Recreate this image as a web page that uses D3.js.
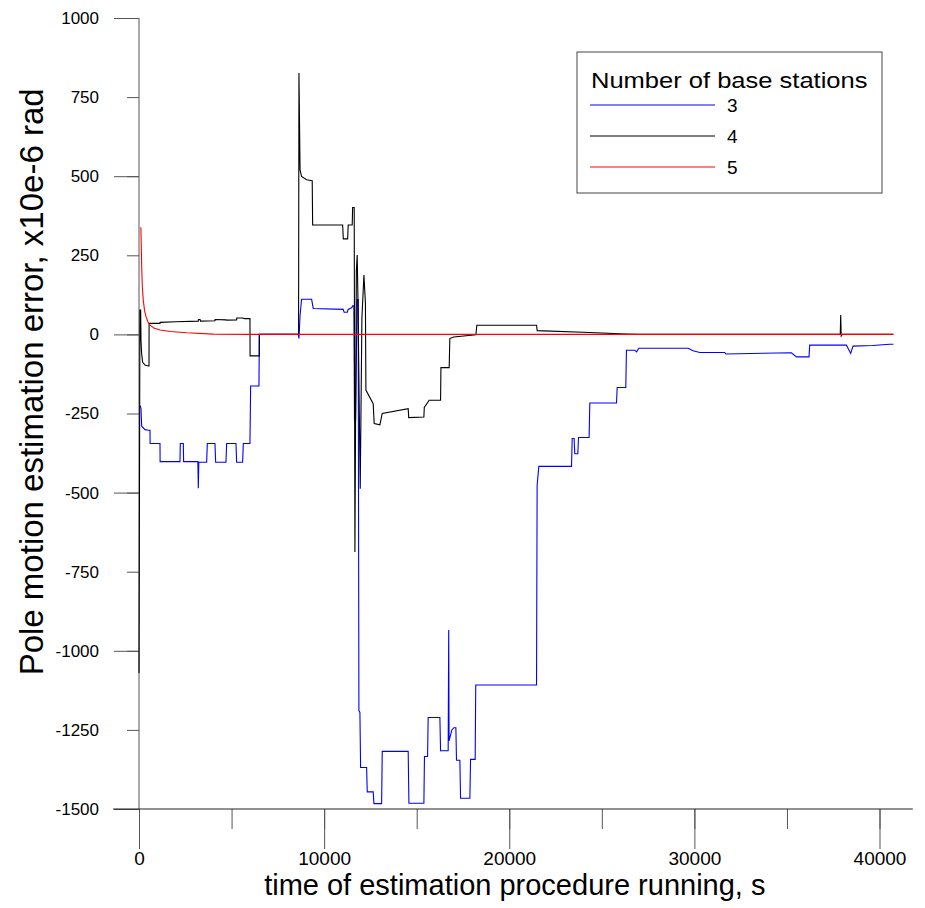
<!DOCTYPE html>
<html>
<head>
<meta charset="utf-8">
<script src="https://cdn.jsdelivr.net/npm/d3@7"></script>
<style>
    body { margin: 0; background: #fff; }
    text { font-family: "Liberation Sans", Arial, sans-serif; fill: #000; }
</style>
</head>
<body>
<svg id="vis"></svg>
<script>
const WIDTH = 925;
const HEIGHT = 908;

// time (s), error (x10e-6 rad)
const station3 = [
    [60, -225], [108, -234], [144, -290], [324, -301], [504, -303], [594, -303], [600, -345],
    [1134, -345], [1140, -402], [2214, -402], [2230, -345], [2394, -345], [2410, -402],
    [3180, -402], [3204, -486], [3230, -404], [3654, -404], [3690, -345], [4104, -345],
    [4140, -404], [4698, -404], [4734, -345], [5238, -345], [5274, -404], [5598, -404],
    [5634, -345], [5994, -345], [6030, -163], [6480, -163], [6500, 0], [8600, 0],
    [8640, -13], [8700, 60], [8784, 111], [9325, 111], [9412, 82], [11031, 79],
    [11080, 70], [11250, 70], [11300, 79], [11500, 85], [11539, 90], [11609, 90],
    [11640, -270], [11700, -270], [11780, 110], [11840, 110], [11879, -1189], [11933, -1195],
    [11970, -1369], [12295, -1369], [12330, -1446], [12651, -1446], [12690, -1483],
    [13105, -1483], [13140, -1318], [14541, -1318], [14580, -1482], [15389, -1482],
    [15420, -1334], [15589, -1334], [15620, -1211], [16253, -1211], [16290, -1316],
    [16701, -1316], [16730, -934], [16750, -1285], [16900, -1250], [17009, -1243],
    [17117, -1243], [17150, -1346], [17333, -1346], [17370, -1466], [17873, -1466],
    [17910, -1343], [18159, -1343], [18190, -1108], [21474, -1108], [21506, -477],
    [21598, -417], [23364, -417], [23400, -329], [23504, -329], [23540, -377], [23704, -377],
    [23740, -326], [24314, -326], [24352, -217], [25794, -217], [25830, -168], [26296, -168],
    [26330, -50], [26782, -50], [26874, -55], [26998, -44], [29660, -44], [29930, -52],
    [30292, -57], [31641, -57], [31700, -62], [35243, -58], [35513, -71], [36193, -71],
    [36230, -34], [38213, -34], [38445, -60], [38569, -37], [39633, -35], [40551, -31],
    [40750, -31]
];

const station4 = [
    [0, -1070], [50, 77], [90, 77], [108, -20], [140, -60], [198, -88], [324, -97],
    [504, -100], [540, -100], [545, 35], [1134, 35], [1140, 38], [2000, 40], [3204, 42],
    [3210, 47], [3300, 47], [3320, 42], [4104, 43], [4110, 47], [4700, 46], [4734, 45],
    [5274, 46], [5280, 52], [5600, 52], [5700, 50], [5994, 50], [6000, -68], [6498, -68],
    [6500, 0], [8620, 0], [8640, 826], [8700, 520], [8784, 499], [9055, 489], [9357, 486],
    [9380, 346], [11000, 346], [11036, 302], [11270, 302], [11300, 346], [11517, 346],
    [11540, 401], [11625, 401], [11663, -688], [11740, 200], [11787, 251], [11830, 100],
    [11950, -488], [12040, 50], [12150, 188], [12230, 100], [12257, -176], [12650, -219],
    [12705, -282], [13013, -286], [13137, -250], [14541, -235], [14570, -263], [15389, -261],
    [15410, -231], [15675, -208], [16290, -208], [16310, -105], [16755, -105], [16790, -13],
    [17000, -8], [18197, -1], [18250, 29], [21474, 29], [21510, 12], [24352, 6],
    [26334, 1], [27000, 0], [37880, 0], [37905, 61], [37930, -5], [38000, 0], [40750, 0]
];

const station5 = [
    [100, 339], [130, 260], [145, 214], [180, 150], [230, 109], [300, 75], [380, 56],
    [480, 40], [600, 29], [800, 20], [1130, 14], [1700, 9], [2570, 5], [4000, 1],
    [6000, 0], [40750, 0]
];

const SERIES_NAMES = ["3", "4", "5"];
const SERIES_COLORS = ["#0000ff", "#000000", "#ff0000"];
const X_TICKS = [0, 5000, 10000, 15000, 20000, 25000, 30000, 35000, 40000];
const X_MAJOR = [0, 10000, 20000, 30000, 40000];
const Y_TICKS = [-1500, -1250, -1000, -750, -500, -250, 0, 250, 500, 750, 1000];
const Y_MAJOR = [-1500, -1000, -500, 0, 500, 1000];

const svg = d3.select("#vis")
    .attr("width", WIDTH)
    .attr("height", HEIGHT);

svg.append("rect").attr("width", WIDTH).attr("height", HEIGHT).attr("fill", "#fff");

const x = d3.scaleLinear().domain([0, 40000]).range([139, 879.5]);
const y = d3.scaleLinear().domain([-1500, 1000]).range([809, 18]);

// plain numbers with an ascii hyphen, no thousands separator
const plain = d => String(d);

// axes
const yAxisMinor = svg.append("g")
    .attr("transform", "translate(" + x(0) + ",0)")
    .call(d3.axisLeft(y).tickValues(Y_TICKS).tickSize(12).tickPadding(28).tickFormat(plain));
const yAxisMajor = svg.append("g")
    .attr("transform", "translate(" + x(0) + ",0)")
    .call(d3.axisLeft(y).tickValues(Y_MAJOR).tickSize(25).tickFormat(""));
const xAxisMinor = svg.append("g")
    .attr("transform", "translate(0," + y(-1500) + ")")
    .call(d3.axisBottom(x).tickValues(X_TICKS).tickSize(20).tickFormat(""));
const xAxisMajor = svg.append("g")
    .attr("transform", "translate(0," + y(-1500) + ")")
    .call(d3.axisBottom(x).tickValues(X_MAJOR).tickSize(40).tickPadding(3).tickFormat(plain));

svg.selectAll(".domain").remove();
svg.selectAll(".tick line").attr("stroke", "#555");
yAxisMinor.selectAll("text").style("font-size", "17px").attr("font-family", null).attr("fill", "#000");
xAxisMajor.selectAll("text").style("font-size", "19px").attr("font-family", null).attr("fill", "#000");

svg.append("line")
    .attr("x1", x(0)).attr("x2", x(0))
    .attr("y1", y(1000)).attr("y2", y(-1500))
    .attr("stroke", "#555");
svg.append("line")
    .attr("x1", x(-1400)).attr("x2", x(41800))
    .attr("y1", y(-1500)).attr("y2", y(-1500))
    .attr("stroke", "#222");

// axis titles
svg.append("text")
    .attr("x", x(20300))
    .attr("y", 895)
    .attr("text-anchor", "middle")
    .style("font-size", "29px")
    .text("time of estimation procedure running, s");

svg.append("text")
    .attr("transform", "translate(43," + y(-150) + ") rotate(-90)")
    .attr("text-anchor", "middle")
    .style("font-size", "33px")
    .text("Pole motion estimation error, x10e-6 rad");

// series
const line = d3.line()
    .x(d => x(d[0]))
    .y(d => y(d[1]));

[station3, station4, station5].forEach((data, i) => {
    svg.append("path")
        .datum(data)
        .attr("fill", "none")
        .attr("stroke", SERIES_COLORS[i])
        .attr("stroke-width", 1.1)
        .attr("d", line);
});

// legend
const legend = svg.append("g").attr("transform", "translate(577,52)");
legend.append("rect")
    .attr("width", 305)
    .attr("height", 141)
    .attr("fill", "#fff")
    .attr("stroke", "#444");
legend.append("text")
    .attr("transform", "translate(14,36) scale(1.16,1)")
    .style("font-size", "22px")
    .text("Number of base stations");
SERIES_NAMES.forEach((name, i) => {
    const ly = 53 + i * 31;
    legend.append("line")
        .attr("x1", 13).attr("x2", 138)
        .attr("y1", ly).attr("y2", ly)
        .attr("stroke", SERIES_COLORS[i]);
    legend.append("text")
        .attr("x", 150)
        .attr("y", ly)
        .attr("dy", "0.36em")
        .style("font-size", "19px")
        .text(name);
});
</script>
</body>
</html>
